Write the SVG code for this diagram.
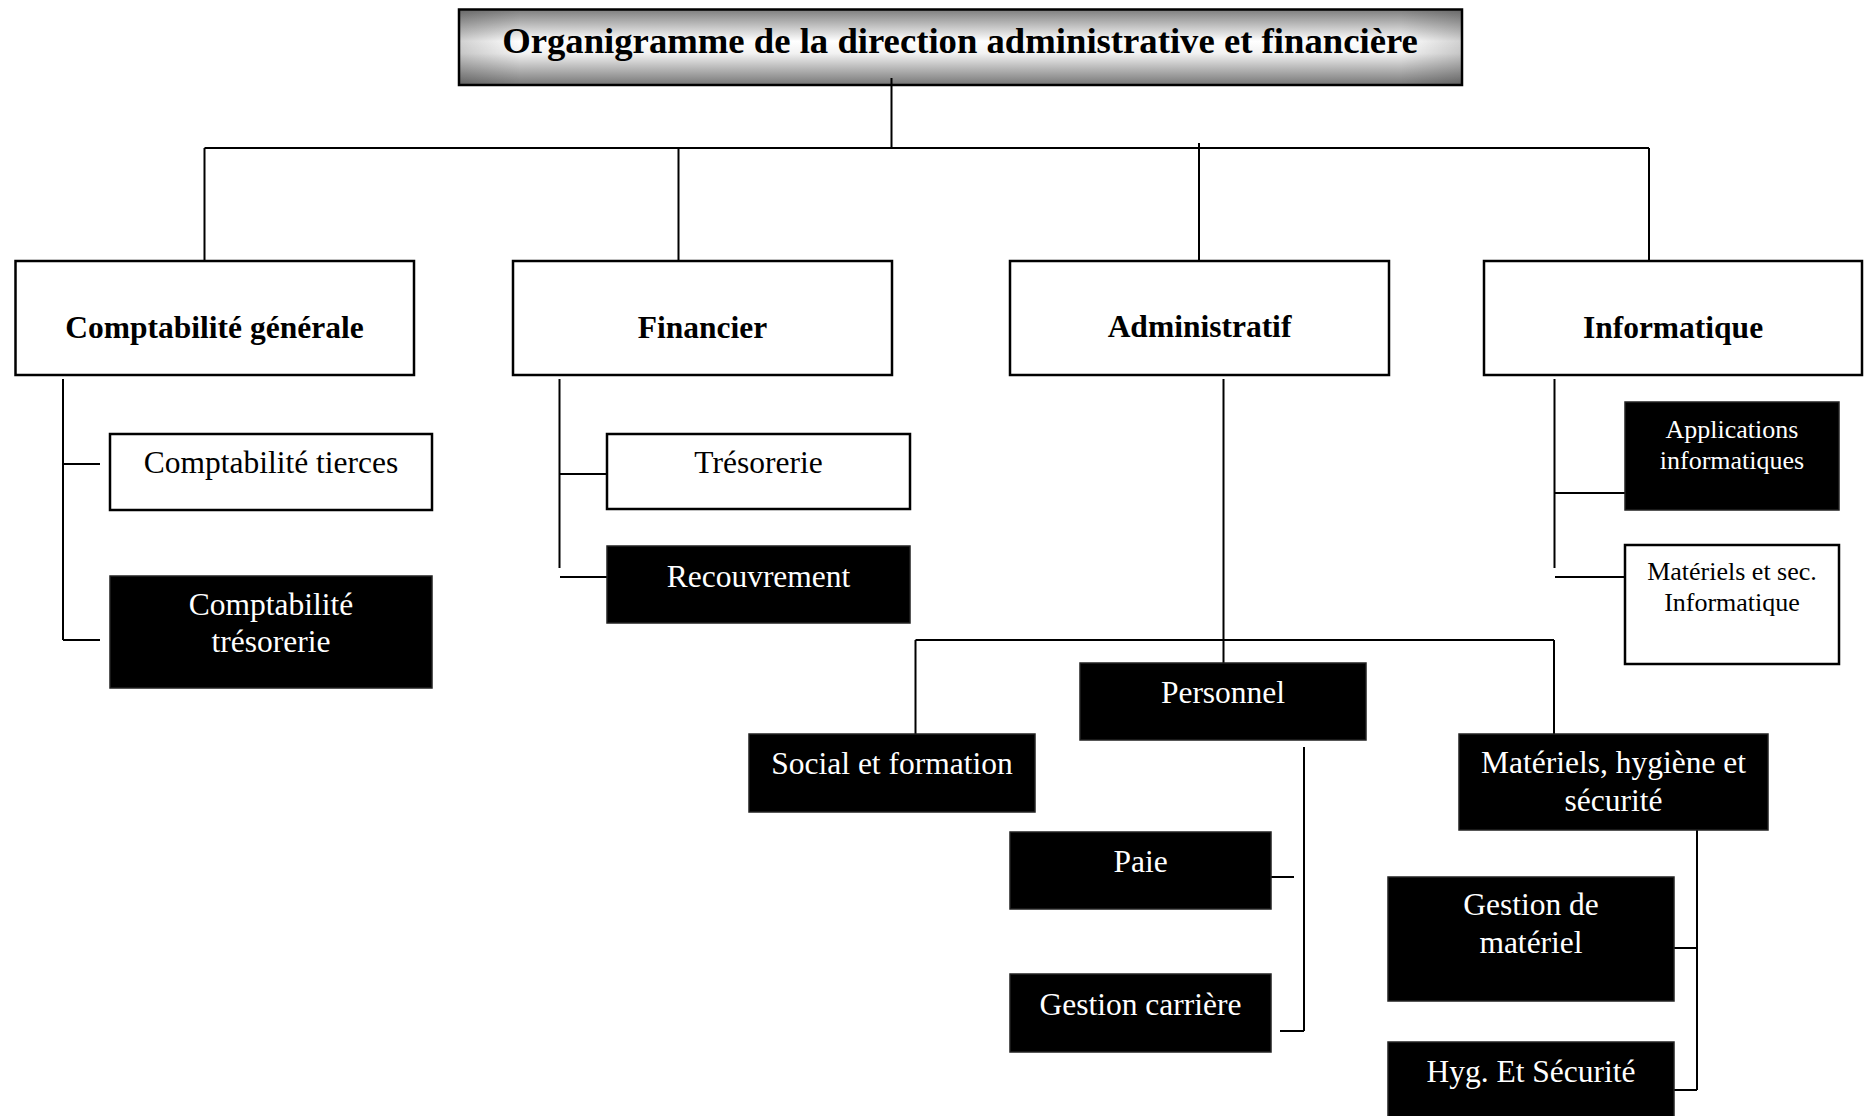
<svg xmlns="http://www.w3.org/2000/svg" width="1870" height="1116" viewBox="0 0 1870 1116">
<defs>
<linearGradient id="metal" x1="0" y1="0" x2="0" y2="1">
<stop offset="0" stop-color="#7e7e7e"/>
<stop offset="0.42" stop-color="#ffffff"/>
<stop offset="0.58" stop-color="#f2f2f2"/>
<stop offset="1" stop-color="#767676"/>
</linearGradient>
<linearGradient id="side" x1="0" y1="0" x2="1" y2="0">
<stop offset="0" stop-color="#000" stop-opacity="0.18"/>
<stop offset="0.06" stop-color="#000" stop-opacity="0"/>
<stop offset="0.94" stop-color="#000" stop-opacity="0"/>
<stop offset="1" stop-color="#000" stop-opacity="0.18"/>
</linearGradient>
</defs>
<style>
text{font-family:"Liberation Serif","Times New Roman",serif;text-anchor:middle}
.w{fill:#fff;stroke:#000;stroke-width:2.5}
.b{fill:#000;stroke:#222;stroke-width:1.5}
.t{font-size:31.5px;fill:#000}
.tw{font-size:31.5px;fill:#fff}
.s{font-size:26px;fill:#000}
.sw{font-size:26px;fill:#fff}
.h{font-size:31.5px;font-weight:bold;fill:#000}
.ttl{font-size:36.7px;font-weight:bold;fill:#000}
.c{fill:none;stroke:#000;stroke-width:2}
</style>
<rect width="1870" height="1116" fill="#fff"/>

<g id="title">
<rect x="459" y="9.5" width="1003" height="75.5" fill="url(#metal)" stroke="#000" stroke-width="2.5"/>
<rect x="460" y="11" width="1001" height="73" fill="url(#side)"/>
<text class="ttl" x="960" y="53">Organigramme de la direction administrative et financière</text>
</g>

<g id="connectors">
<path class="c" d="M891.5 78V148M204.5 148H1649M204.5 148V261M678.5 148V261M1199 143V261M1649 148V261"/>
<path class="c" d="M63 379V640M63 464H100M63 640H100"/>
<path class="c" d="M559.5 379V568M559.5 474H607M560 577H607"/>
<path class="c" d="M1554.5 379V568M1554.5 493H1625M1555 577H1625"/>
<path class="c" d="M1223.5 379V663M915.5 640H1554M915.5 640V734M1554 640V734"/>
<path class="c" d="M1304 747V1031M1271 877H1294M1280 1031H1304"/>
<path class="c" d="M1697 830V1090M1674 948H1697M1674 1090H1697"/>
</g>

<g id="comptabilite-generale">
<rect class="w" x="15.5" y="261" width="398.5" height="114"/>
<text class="h" x="214.5" y="338">Comptabilité générale</text>
</g>
<g id="financier">
<rect class="w" x="513" y="261" width="379" height="114"/>
<text class="h" x="702.5" y="338">Financier</text>
</g>
<g id="administratif">
<rect class="w" x="1010" y="261" width="379" height="114"/>
<text class="h" x="1199.5" y="337">Administratif</text>
</g>
<g id="informatique">
<rect class="w" x="1484" y="261" width="378" height="114"/>
<text class="h" x="1673" y="338">Informatique</text>
</g>

<g id="comptabilite-tierces">
<rect class="w" x="110" y="434" width="322" height="76"/>
<text class="t" x="271" y="473">Comptabilité tierces</text>
</g>
<g id="comptabilite-tresorerie">
<rect class="b" x="110" y="576" width="322" height="112"/>
<text class="tw" x="271" y="615">Comptabilité</text>
<text class="tw" x="271" y="652">trésorerie</text>
</g>

<g id="tresorerie">
<rect class="w" x="607" y="434" width="303" height="75"/>
<text class="t" x="758.5" y="473">Trésorerie</text>
</g>
<g id="recouvrement">
<rect class="b" x="607" y="546" width="303" height="77"/>
<text class="tw" x="758.5" y="587">Recouvrement</text>
</g>

<g id="applications-informatiques">
<rect class="b" x="1625" y="402" width="214" height="108"/>
<text class="sw" x="1732" y="438">Applications</text>
<text class="sw" x="1732" y="469">informatiques</text>
</g>
<g id="materiels-sec-informatique">
<rect class="w" x="1625" y="545" width="214" height="119"/>
<text class="s" x="1732" y="580">Matériels et sec.</text>
<text class="s" x="1732" y="611">Informatique</text>
</g>

<g id="personnel">
<rect class="b" x="1080" y="663" width="286" height="77"/>
<text class="tw" x="1223" y="703">Personnel</text>
</g>
<g id="social-formation">
<rect class="b" x="749" y="734" width="286" height="78"/>
<text class="tw" x="892" y="774">Social et formation</text>
</g>
<g id="materiels-hygiene-securite">
<rect class="b" x="1459" y="734" width="309" height="96"/>
<text class="tw" x="1613.5" y="773">Matériels, hygiène et</text>
<text class="tw" x="1613.5" y="811">sécurité</text>
</g>
<g id="paie">
<rect class="b" x="1010" y="832" width="261" height="77"/>
<text class="tw" x="1140.5" y="872">Paie</text>
</g>
<g id="gestion-carriere">
<rect class="b" x="1010" y="974" width="261" height="78"/>
<text class="tw" x="1140.5" y="1015">Gestion carrière</text>
</g>
<g id="gestion-materiel">
<rect class="b" x="1388" y="877" width="286" height="124"/>
<text class="tw" x="1531" y="915">Gestion de</text>
<text class="tw" x="1531" y="953">matériel</text>
</g>
<g id="hyg-securite">
<rect class="b" x="1388" y="1042" width="286" height="80"/>
<text class="tw" x="1531" y="1082">Hyg. Et Sécurité</text>
</g>
</svg>
